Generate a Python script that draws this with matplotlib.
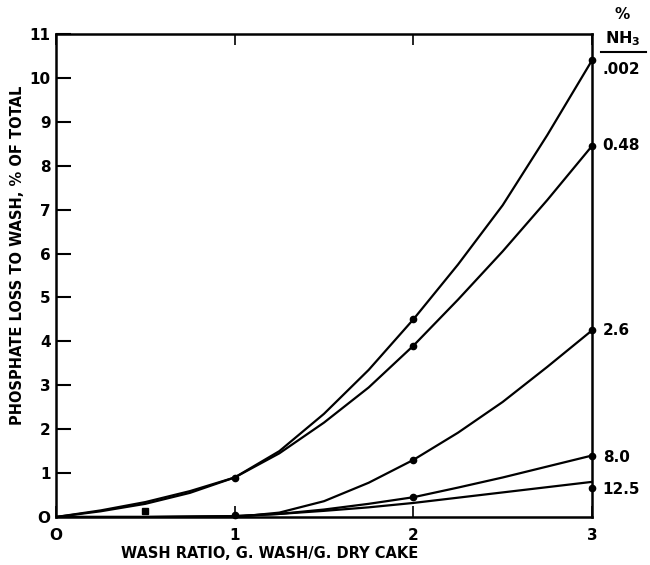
import matplotlib
matplotlib.use("Agg")
import matplotlib.pyplot as plt

# curves (wash ratio vs phosphate loss, % of total)
wash_x = [0, 0.25, 0.5, 0.75, 1.0, 1.25, 1.5, 1.75, 2.0, 2.25, 2.5, 2.75, 3.0]
loss_002 = [0, 0.13, 0.30, 0.55, 0.90, 1.50, 2.35, 3.35, 4.50, 5.75, 7.10, 8.70, 10.40]
loss_048 = [0, 0.15, 0.34, 0.59, 0.90, 1.45, 2.15, 2.95, 3.90, 4.95, 6.05, 7.22, 8.45]
loss_26 = [0, 0, 0, 0, 0.0, 0.10, 0.36, 0.78, 1.30, 1.92, 2.62, 3.42, 4.25]
loss_80 = [0, 0, 0, 0.01, 0.02, 0.07, 0.17, 0.30, 0.45, 0.67, 0.90, 1.15, 1.40]
loss_125 = [0, 0, 0, 0.01, 0.02, 0.07, 0.14, 0.22, 0.32, 0.44, 0.56, 0.68, 0.80]

# measured points
pts_x = [0.5, 1, 1, 2, 2, 2, 2, 3, 3, 3, 3, 3]
pts_y = [0.13, 0.05, 0.88, 4.5, 3.9, 1.3, 0.45, 10.4, 8.45, 4.25, 1.4, 0.65]

nh3_labels = [".002", "0.48", "2.6", "8.0", "12.5"]
nh3_label_y = [10.2, 8.45, 4.25, 1.35, 0.62]

plt.rcParams['font.family'] = 'DejaVu Sans'
plt.rcParams['font.weight'] = 'bold'

fig = plt.figure(figsize=(6.5, 5.65), dpi=100)
ax = fig.add_axes([56 / 650, 1 - 517 / 565, (592 - 56) / 650, (517 - 34) / 565])

for ys in [loss_002, loss_048, loss_26, loss_80, loss_125]:
    ax.plot(wash_x, ys, color='black', lw=1.6, solid_capstyle='round', solid_joinstyle='round')

ax.plot(pts_x[1:], pts_y[1:], 'o', color='black', ms=4.5, clip_on=False)
ax.plot(pts_x[:1], pts_y[:1], 's', color='black', ms=4, clip_on=False)

ax.set_xlim(0, 3)
ax.set_ylim(0, 11)
ax.set_xticks([0, 1, 2, 3])
ax.set_xticklabels(['O', '1', '2', '3'])
ax.set_yticks(range(0, 12))
ax.set_yticklabels(['O'] + [str(i) for i in range(1, 12)])
ax.tick_params(axis='y', direction='in', length=11, width=1.5, labelsize=11, pad=4)
ax.tick_params(axis='x', direction='in', length=8, width=1.2, labelsize=11, pad=8,
               top=True)
for s in ax.spines.values():
    s.set_linewidth(1.8)

for lab, y in zip(nh3_labels, nh3_label_y):
    ax.text(3.06, y, lab, fontsize=11, fontweight='bold', va='center', ha='left', clip_on=False)

ax.text(3.17, 11.45, "%", fontsize=11, fontweight='bold', ha='center', va='center')
ax.text(3.17, 10.9, "NH$_\\mathbf{3}$", fontsize=11.5, fontweight='bold', ha='center', va='center')
ax.plot([3.05, 3.3], [10.58, 10.58], color='black', lw=1.5, clip_on=False)

fig.text(270 / 650, 1 - 553 / 565, "WASH RATIO, G. WASH/G. DRY CAKE", fontsize=10.5,
         fontweight='bold', ha='center', va='center')
fig.text(18 / 650, 1 - 255 / 565, "PHOSPHATE LOSS TO WASH, % OF TOTAL", fontsize=10.5,
         fontweight='bold', ha='center', va='center', rotation=90)

fig.savefig("out.png", dpi=100)
